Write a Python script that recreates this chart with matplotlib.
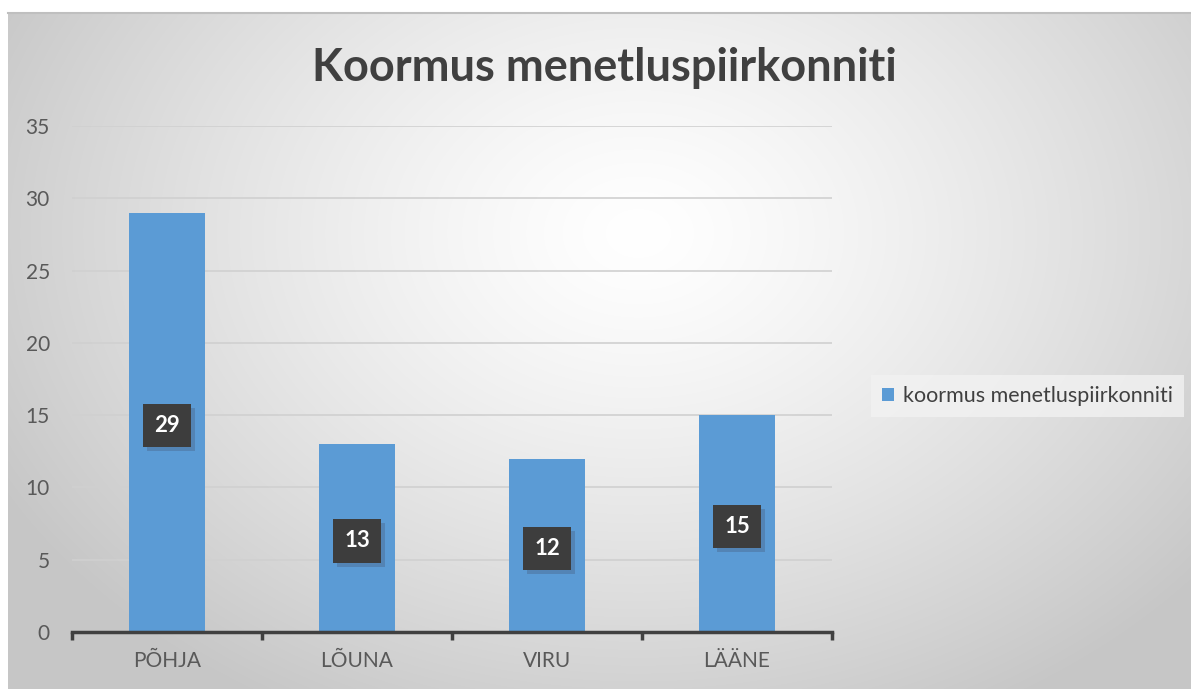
import numpy as np
import matplotlib.pyplot as plt
from matplotlib import patheffects

categories = ["PÕHJA", "LÕUNA", "VIRU", "LÄÄNE"]
values = [29, 13, 12, 15]
series_name = "koormus menetluspiirkonniti"
title = "Koormus menetluspiirkonniti"
yticks = [0, 5, 10, 15, 20, 25, 30, 35]

plt.rcParams['font.family'] = ['Lato', 'DejaVu Sans']

W, H = 1191, 689
fig = plt.figure(figsize=(W / 100, H / 100), dpi=100)
fig.patch.set_facecolor("white")

# radial gradient background of the chart area
bg = fig.add_axes([8 / W, 0, 1 - 8 / W, 1 - 13 / H])
bg.set_axis_off()
yy, xx = np.mgrid[0:676, 0:1183]
cx, cy = 630, 220
r = np.sqrt(((xx - cx) / 720) ** 2 + ((yy - cy) / 540) ** 2)
shade = 1.0 - 0.22 * np.clip(r, 0, 1) ** 1.3
bg.imshow(np.dstack([shade] * 3), aspect="auto", extent=[0, 1, 0, 1], origin="upper")
bg.plot([0, 1], [1, 1], color="#bfbfbf", lw=1.5, transform=bg.transAxes, clip_on=False)

ax = fig.add_axes([72 / W, (H - 632) / H, (832 - 72) / W, (632 - 126) / H])
ax.patch.set_alpha(0)
x = np.arange(len(categories))
bars = ax.bar(x, values, width=0.4, color="#5b9bd5", zorder=3, label=series_name)
ax.set_xlim(-0.5, len(categories) - 0.5)
ax.set_ylim(0, 35)
ax.set_yticks(yticks)
ax.set_yticklabels([str(t) for t in yticks], fontsize=15, color="#595959")
ax.set_xticks(x)
ax.set_xticklabels(categories, fontsize=15, color="#595959")
ax.tick_params(axis="y", length=0, pad=16)
ax.tick_params(axis="x", length=0, pad=14)
ax.set_xticks(np.arange(len(categories) + 1) - 0.5, minor=True)
ax.tick_params(axis="x", which="minor", length=6, width=2.5, color="#404040")
ax.grid(axis="y", color="#d0d0d0", lw=1.2, zorder=0)
for s in ["top", "right", "left"]:
    ax.spines[s].set_visible(False)
ax.spines["bottom"].set_color("#404040")
ax.spines["bottom"].set_linewidth(2.5)
ax.spines["bottom"].set_zorder(4)

for xi, v in zip(x, values):
    t = ax.text(xi, v / 2 - 0.2, str(v), ha="center", va="center", fontsize=16,
                fontweight="bold", color="white", zorder=5,
                bbox=dict(boxstyle="square,pad=0.5", fc="#3d3d3d", ec="none"))
    t.get_bbox_patch().set_path_effects([
        patheffects.SimplePatchShadow(offset=(3, -3), shadow_rgbFace="#4a6a90", alpha=0.45),
        patheffects.Normal()])

fig.text(604 / W, 1 - 68 / H, title, ha="center", va="center", fontsize=32.5,
         fontweight="bold", color="#404040")

leg = ax.legend(loc="center left", bbox_to_anchor=(860 / W, 1 - 396 / H),
                bbox_transform=fig.transFigure, frameon=True, fontsize=15.5,
                handlelength=0.6, handleheight=0.6, handletextpad=0.4,
                borderpad=0.5, fancybox=False)
leg.get_frame().set_facecolor("#f2f2f2")
leg.get_frame().set_edgecolor("none")
for t in leg.get_texts():
    t.set_color("#404040")

fig.savefig("out.png", dpi=100)
